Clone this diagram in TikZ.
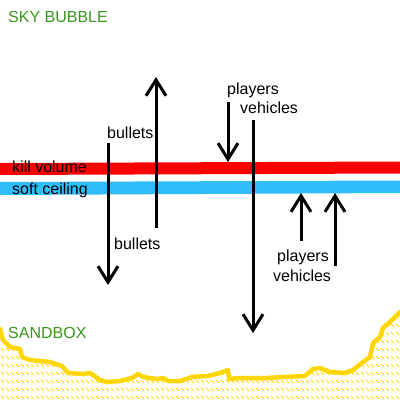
\documentclass[tikz,border=0pt]{standalone}
\usepackage{fontspec}
\setmainfont{Liberation Sans}
\usetikzlibrary{arrows.meta}
\definecolor{skygreen}{RGB}{58,150,30}
\definecolor{killred}{RGB}{255,0,0}
\definecolor{ceilblue}{RGB}{48,190,250}
\definecolor{sandyellow}{RGB}{255,215,0}
\tikzset{
  lbl/.style={anchor=base west, inner sep=0pt, font=\fontsize{16}{18}\selectfont},
  zone/.style={lbl, text=skygreen},
  mover/.style={line width=3pt, -{Straight Barb[length=16pt,width=20pt,line width=3pt]}},
}
\begin{document}
\begin{tikzpicture}[x=1pt,y=-1pt]
\useasboundingbox (0,0) rectangle (400,400);
\fill[white] (0,0) rectangle (400,400);
% bands
\fill[killred] (0,163) -- (400,161.5) -- (400,173.5) -- (0,175) -- cycle;
\fill[ceilblue] (0,182) -- (400,180.5) -- (400,193) -- (0,195) -- cycle;
% ground
\def\groundpath{(0,329) -- (1,333) -- (3,340) -- (10,347) -- (20,349) -- (22,357) -- (30,360) -- (50,362) -- (62,366) -- (68,373) -- (83,374) -- (90,373) -- (93,375) -- (100,380) -- (107,382) -- (120,381) -- (132,378) -- (138,374) -- (143,377) -- (157,379) -- (163,378) -- (168,381) -- (180,381) -- (192,377) -- (208,376) -- (220,373) -- (228,370) -- (229,379) -- (240,378) -- (267,378) -- (283,377) -- (305,376) -- (313,369) -- (320,368) -- (330,372) -- (345,373) -- (353,370) -- (363,362) -- (370,357) -- (373,343) -- (380,337) -- (383,328) -- (392,320) -- (400,312)}
\begin{scope}
  \clip \groundpath -- (400,400) -- (0,400) -- cycle;
  \foreach \yy in {316,324,...,396}{
    \foreach \xx in {-4,1,...,400}{
      \draw[sandyellow, line width=1pt] (\xx,\yy) -- ++(3,3);
    }
  }
\end{scope}
\draw[sandyellow, line width=4.5pt, line join=round, line cap=round] \groundpath;
% zone labels
\node[zone] (sky) at (8,22) {SKY BUBBLE};
\node[zone] (sand) at (8,338) {SANDBOX};
\node[lbl] (kill) at (12,172) {kill volume};
\node[lbl] (soft) at (12,194) {soft ceiling};
% labels
\node[lbl] (b1) at (107,138) {bullets};
\node[lbl] (b2) at (114,249) {bullets};
\node[lbl] (p1) at (227,94) {players};
\node[lbl] (v1) at (240,113) {vehicles};
\node[lbl] (p2) at (277,261) {players};
\node[lbl] (v2) at (273,281) {vehicles};
% arrows
\coordinate (a1s) at (108,143); \coordinate (a1e) at (108,285);
\coordinate (a2s) at (156,228); \coordinate (a2e) at (156,77);
\coordinate (a3s) at (228,102); \coordinate (a3e) at (228,162);
\coordinate (a4s) at (253,120); \coordinate (a4e) at (253,333);
\coordinate (a5s) at (301,241); \coordinate (a5e) at (301,193);
\coordinate (a6s) at (335,266); \coordinate (a6e) at (335,193);
\draw[mover] (a1s) -- (a1e);
\draw[mover] (a2s) -- (a2e);
\draw[mover] (a3s) -- (a3e);
\draw[mover] (a4s) -- (a4e);
\draw[mover] (a5s) -- (a5e);
\draw[mover] (a6s) -- (a6e);
\end{tikzpicture}
\end{document}
